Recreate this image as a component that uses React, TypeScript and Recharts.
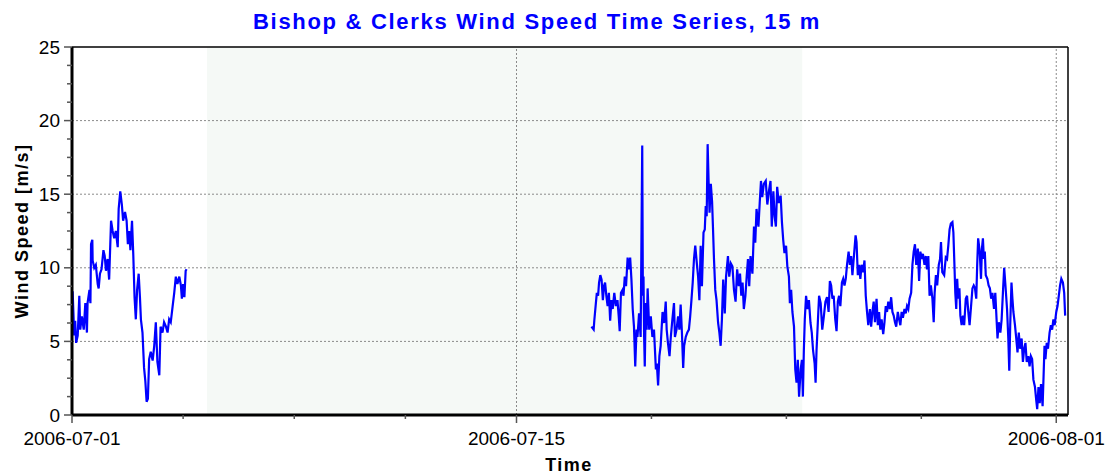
import React from 'react';
import { LineChart, Line, XAxis, YAxis, ReferenceLine, ReferenceArea } from 'recharts';

// days since 2006-07-01 00:00 and wind speed in m/s
const seg1Days = [
  0.02, 0.07, 0.1, 0.13, 0.18, 0.23, 0.26, 0.31, 0.37, 0.42, 0.47, 0.49, 0.55, 0.58, 0.6, 0.64, 0.65, 0.7, 0.75, 0.81,
  0.84, 0.88, 0.93, 0.99, 1.03, 1.07, 1.12, 1.17, 1.23, 1.28, 1.33, 1.38, 1.44, 1.47, 1.52, 1.57, 1.61, 1.67, 1.72, 1.76,
  1.8, 1.84, 1.89, 1.93, 1.97, 2.01, 2.05, 2.1, 2.14, 2.17, 2.22, 2.27, 2.31, 2.35, 2.39, 2.43, 2.48, 2.54, 2.59, 2.64,
  2.69, 2.75, 2.79, 2.85, 2.9, 2.96, 3.01, 3.06, 3.11, 3.17, 3.22, 3.27, 3.32, 3.38, 3.43, 3.46, 3.5, 3.54, 3.58, 3.61,
];
const seg1Speed = [
  8.4, 5.4, 6.4, 4.9, 5.4, 8.1, 5.8, 6.7, 5.8, 7.6, 5.6, 7.6, 8.5, 7.6, 11.6, 11.9, 10.5, 10.0, 10.2, 8.9,
  8.6, 9.6, 9.9, 11.2, 10.8, 9.8, 10.6, 9.2, 13.2, 12.5, 12.0, 12.5, 11.4, 14.0, 15.2, 14.3, 13.2, 13.8, 13.2, 11.6,
  12.5, 11.2, 13.2, 10.9, 8.0, 6.5, 8.5, 9.6, 8.0, 6.5, 5.6, 3.2, 2.3, 0.9, 1.1, 3.8, 4.3, 3.7, 4.7, 6.3,
  3.6, 2.7, 6.0, 5.6, 6.3, 6.0, 5.6, 6.5, 6.3, 7.4, 8.3, 9.4, 8.9, 9.4, 8.8, 7.9, 8.9, 8.0, 9.8, 9.9,
];

const seg2Days = [
  16.36, 16.43, 16.45, 16.5, 16.53, 16.57, 16.6, 16.64, 16.68, 16.72, 16.76, 16.79, 16.83, 16.87, 16.91, 16.95, 16.99, 17.03, 17.08, 17.13,
  17.18, 17.22, 17.25, 17.29, 17.34, 17.37, 17.41, 17.45, 17.5, 17.54, 17.58, 17.62, 17.66, 17.7, 17.74, 17.78, 17.81, 17.86, 17.91, 17.96,
  17.98, 18.0, 18.02, 18.04, 18.07, 18.1, 18.13, 18.18, 18.23, 18.28, 18.33, 18.39, 18.42, 18.46, 18.5, 18.54, 18.6, 18.65, 18.7, 18.73,
  18.77, 18.82, 18.86, 18.91, 18.96, 18.99, 19.04, 19.09, 19.13, 19.17, 19.21, 19.25, 19.28, 19.33, 19.38, 19.43, 19.47, 19.51, 19.55, 19.59,
  19.63, 19.68, 19.72, 19.76, 19.8, 19.84, 19.89, 19.93, 19.96, 19.99, 20.02, 20.05, 20.08, 20.12, 20.16, 20.19, 20.22, 20.26, 20.3, 20.35,
  20.39, 20.43, 20.47, 20.51, 20.56, 20.6, 20.66, 20.7, 20.75, 20.8, 20.85, 20.9, 20.95, 21.0, 21.04, 21.08, 21.12, 21.16, 21.21, 21.25,
  21.29, 21.33, 21.37, 21.43, 21.48, 21.52, 21.56, 21.62, 21.66, 21.7, 21.74, 21.79, 21.85, 21.9, 21.95, 22.0, 22.04, 22.09, 22.13, 22.17,
  22.21, 22.26, 22.32, 22.36, 22.4, 22.44, 22.49, 22.53, 22.58, 22.61, 22.65, 22.69, 22.74, 22.78, 22.82, 22.86, 22.9, 22.95, 22.99, 23.02,
  23.05, 23.08, 23.12, 23.17, 23.21, 23.26, 23.3, 23.34, 23.39, 23.42, 23.45, 23.49, 23.53, 23.58, 23.63, 23.68, 23.73, 23.78, 23.83, 23.87,
  23.91, 23.95, 23.99, 24.04, 24.08, 24.12, 24.16, 24.2, 24.25, 24.29, 24.33, 24.37, 24.41, 24.46, 24.5, 24.54, 24.58, 24.62, 24.68, 24.71,
  24.75, 24.79, 24.83, 24.87, 24.92, 24.96, 25.0, 25.04, 25.08, 25.13, 25.17, 25.21, 25.25, 25.29, 25.34, 25.38, 25.42, 25.46, 25.5, 25.55,
  25.59, 25.63, 25.67, 25.71, 25.76, 25.8, 25.84, 25.88, 25.92, 25.96, 26.01, 26.05, 26.09, 26.13, 26.17, 26.22, 26.26, 26.3, 26.34, 26.38,
  26.43, 26.47, 26.51, 26.55, 26.59, 26.64, 26.68, 26.72, 26.76, 26.8, 26.85, 26.89, 26.93, 26.97, 27.01, 27.05, 27.1, 27.14, 27.17, 27.21,
  27.25, 27.3, 27.34, 27.37, 27.41, 27.47, 27.52, 27.56, 27.6, 27.64, 27.68, 27.73, 27.76, 27.79, 27.82, 27.85, 27.88, 27.91, 27.95, 27.98,
  28.02, 28.06, 28.1, 28.15, 28.19, 28.23, 28.27, 28.31, 28.36, 28.4, 28.44, 28.48, 28.51, 28.54, 28.59, 28.63, 28.66, 28.69, 28.72, 28.75,
  28.78, 28.83, 28.87, 28.91, 28.95, 28.99, 29.04, 29.08, 29.12, 29.15, 29.19, 29.24, 29.28, 29.32, 29.36, 29.4, 29.45, 29.49, 29.52, 29.55,
  29.59, 29.62, 29.65, 29.7, 29.74, 29.78, 29.82, 29.86, 29.91, 29.95, 29.99, 30.03, 30.07, 30.12, 30.16, 30.2, 30.24, 30.28, 30.33, 30.37,
  30.4, 30.44, 30.48, 30.52, 30.57, 30.6, 30.63, 30.66, 30.7, 30.74, 30.79, 30.83, 30.87, 30.91, 30.95, 31.0, 31.04, 31.08, 31.12, 31.16,
  31.21, 31.25, 31.28,
];
const seg2Speed = [
  6.0, 5.8, 6.4, 7.6, 8.3, 8.1, 9.0, 9.5, 9.2, 7.8, 8.8, 9.0, 8.1, 7.4, 8.3, 6.4, 7.8, 7.2, 8.3, 7.4,
  7.8, 6.7, 5.7, 8.3, 8.5, 8.1, 9.4, 8.75, 10.7, 9.9, 10.7, 9.2, 7.2, 6.0, 3.3, 5.8, 5.3, 6.9, 5.3, 18.3,
  8.1, 9.4, 5.3, 3.3, 7.6, 5.8, 8.6, 5.8, 6.7, 5.3, 5.8, 3.1, 3.5, 2.0, 4.0, 4.7, 7.0, 6.25, 7.7, 5.8,
  4.9, 4.0, 5.3, 6.5, 7.6, 5.3, 5.8, 6.7, 5.8, 7.5, 5.6, 3.2, 4.7, 5.3, 5.6, 5.8, 6.7, 7.8, 9.0, 10.6,
  11.5, 10.3, 9.4, 7.8, 11.5, 8.75, 12.4, 12.6, 14.2, 13.5, 18.4, 15.9, 13.75, 15.7, 14.5, 12.6, 10.6, 8.5, 7.8, 6.25,
  5.6, 4.7, 6.5, 9.2, 6.9, 9.4, 10.8, 9.4, 10.3, 10.1, 8.5, 7.7, 9.9, 8.75, 9.6, 8.1, 9.0, 7.2, 8.1, 9.4,
  10.6, 8.75, 10.8, 9.6, 12.8, 11.7, 14.0, 12.8, 14.4, 15.9, 14.8, 15.7, 15.9, 14.3, 15.2, 15.9, 12.8, 15.2, 13.5, 12.8,
  15.5, 14.4, 14.9, 13.1, 11.9, 11.0, 11.5, 10.1, 9.4, 7.6, 8.5, 7.0, 6.0, 3.1, 2.2, 3.75, 1.25, 3.1, 3.75, 1.25,
  4.4, 6.5, 8.1, 7.2, 7.8, 6.25, 5.6, 4.4, 3.5, 2.2, 4.4, 6.25, 8.1, 7.6, 5.8, 6.7, 7.7, 8.0, 7.0, 9.1,
  8.8, 7.9, 8.1, 6.5, 5.7, 7.7, 8.1, 7.4, 9.0, 9.25, 8.8, 9.25, 10.2, 11.1, 10.2, 10.8, 9.5, 10.6, 12.2, 11.75,
  9.5, 10.2, 9.25, 10.2, 9.7, 10.5, 8.1, 7.0, 6.1, 7.2, 6.0, 7.0, 7.7, 6.3, 7.9, 6.1, 7.0, 5.8, 6.5, 5.5,
  6.3, 7.4, 7.0, 7.7, 7.2, 8.0, 7.0, 6.75, 6.3, 6.0, 7.0, 6.5, 6.1, 7.0, 6.6, 7.2, 6.9, 7.4, 7.2, 7.9,
  8.3, 10.2, 11.1, 11.6, 10.2, 11.3, 9.1, 11.1, 10.6, 10.95, 10.2, 10.8, 9.9, 10.8, 8.1, 8.8, 7.9, 6.3, 8.3, 9.5,
  8.8, 10.2, 10.6, 11.75, 9.7, 9.5, 10.7, 10.6, 11.5, 12.6, 13.0, 13.1, 12.4, 10.4, 8.3, 7.2, 9.25, 7.9, 8.6, 6.75,
  6.1, 6.75, 6.1, 7.9, 8.1, 7.0, 6.1, 7.2, 8.6, 8.8, 8.6, 7.9, 10.2, 12.0, 11.1, 9.25, 11.3, 12.0, 10.6, 11.1,
  9.5, 9.25, 8.8, 8.6, 7.9, 8.3, 7.2, 8.3, 6.5, 5.2, 6.3, 5.6, 6.5, 8.3, 10.0, 8.8, 7.2, 5.2, 3.0, 6.1,
  9.0, 7.9, 7.0, 6.1, 5.2, 4.25, 5.6, 4.5, 5.2, 3.6, 4.5, 4.9, 3.6, 4.0, 3.3, 4.0, 3.8, 2.4, 1.9, 1.0,
  0.4, 1.9, 0.8, 2.1, 0.6, 2.6, 4.7, 3.8, 4.9, 4.5, 5.6, 6.1, 5.8, 6.5, 6.1, 7.0, 7.4, 8.1, 8.8, 9.25,
  9.0, 8.3, 6.75,
];

// no data between the two records
const gapDay = 10;

const xMajorTicks = [0, 14, 31];
const xMajorLabels = ['2006-07-01', '2006-07-15', '2006-08-01'];
const xMinorTicks = [3.5, 7, 10.5, 18.25, 22.5, 26.75];
const yMajorTicks = [0, 5, 10, 15, 20, 25];
const yMinorTicks = [1.25, 2.5, 3.75, 6.25, 7.5, 8.75, 11.25, 12.5, 13.75, 16.25, 17.5, 18.75, 21.25, 22.5, 23.75];
const xDomainMax = 31.37;

const data = [
  ...seg1Days.map((d, i) => ({ day: d, speed: seg1Speed[i] as number | null })),
  { day: gapDay, speed: null },
  ...seg2Days.map((d, i) => ({ day: d, speed: seg2Speed[i] as number | null })),
];

const FONT = '"Liberation Sans", Arial, sans-serif';
const Y_TICK = 8;
const Y_GAP = 4;
const X_TICK = 8;
const X_GAP = 9;

const YTick = (props: any) => {
  const { x, y, payload } = props;
  const major = yMajorTicks.includes(payload.value);
  const axisX = x + Y_TICK + Y_GAP;
  const len = major ? 8 : 5;
  return (
    <g>
      <line x1={axisX - len} x2={axisX} y1={y} y2={y} stroke="#555" strokeWidth={1.5} />
      {major && (
        <text x={x} y={y} textAnchor="end" dominantBaseline="central" fontFamily={FONT} fontSize={19} fill="#000">
          {payload.value}
        </text>
      )}
    </g>
  );
};

const XTick = (props: any) => {
  const { x, y, payload } = props;
  const idx = xMajorTicks.indexOf(payload.value);
  const axisY = y - X_TICK - X_GAP;
  const len = idx >= 0 ? 8 : 4;
  return (
    <g>
      <line x1={x} x2={x} y1={axisY} y2={axisY + len} stroke="#555" strokeWidth={1.5} />
      {idx >= 0 && (
        <text x={x} y={y} dy="0.71em" textAnchor="middle" fontFamily={FONT} fontSize={19} fill="#000">
          {xMajorLabels[idx]}
        </text>
      )}
    </g>
  );
};

const gridStyle = { stroke: '#8a8a8a', strokeDasharray: '2 2', strokeWidth: 1 };

export default function App() {
  return (
    <div style={{ position: 'absolute', left: 0, top: 0, width: 1111, height: 474, background: '#fff' }}>
      <LineChart width={1111} height={474} data={data} margin={{ top: 47, right: 43, bottom: 0, left: 0 }}>
        {/* faint watermark panel behind the data */}
        <ReferenceArea x1={4.25} x2={23} y1={0} y2={25} fill="#f5f9f6" fillOpacity={1} stroke="none" />
        {[5, 10, 15, 20].map(v => (
          <ReferenceLine key={'h' + v} y={v} {...gridStyle} />
        ))}
        {xMajorTicks.slice(1).map(v => (
          <ReferenceLine key={'v' + v} x={v} {...gridStyle} />
        ))}
        <ReferenceLine y={25} stroke="#000" strokeWidth={1.5} />
        <ReferenceLine x={xDomainMax} stroke="#000" strokeWidth={1.5} />
        <XAxis
          dataKey="day"
          type="number"
          domain={[0, xDomainMax]}
          allowDataOverflow
          ticks={[...xMajorTicks, ...xMinorTicks].sort((a, b) => a - b)}
          interval={0}
          height={59}
          tickSize={X_TICK}
          tickMargin={X_GAP}
          tickLine={false}
          axisLine={{ stroke: '#000', strokeWidth: 3 }}
          tick={<XTick />}
        />
        <YAxis
          type="number"
          domain={[0, 25]}
          allowDataOverflow
          ticks={[...yMajorTicks, ...yMinorTicks].sort((a, b) => a - b)}
          interval={0}
          width={72}
          tickSize={Y_TICK}
          tickMargin={Y_GAP}
          tickLine={false}
          axisLine={{ stroke: '#000', strokeWidth: 3 }}
          tick={<YTick />}
        />
        <Line
          type="linear"
          dataKey="speed"
          stroke="#0000ff"
          strokeWidth={2.2}
          dot={false}
          connectNulls={false}
          isAnimationActive={false}
        />
      </LineChart>
      <svg width={1111} height={474} style={{ position: 'absolute', left: 0, top: 0, pointerEvents: 'none' }}>
        <text x={253} y={29} fontFamily={FONT} fontSize={22} fontWeight="bold" letterSpacing={1.7} fill="#0000ff">
          Bishop &amp; Clerks Wind Speed Time Series, 15 m
        </text>
        <text
          transform="translate(28,231) rotate(-90)"
          textAnchor="middle"
          fontFamily={FONT}
          fontSize={18}
          fontWeight="bold"
          letterSpacing={1.5}
          fill="#000"
        >
          Wind Speed [m/s]
        </text>
        <text x={569} y={471} textAnchor="middle" fontFamily={FONT} fontSize={18} fontWeight="bold" letterSpacing={1.5} fill="#000">
          Time
        </text>
      </svg>
    </div>
  );
}
